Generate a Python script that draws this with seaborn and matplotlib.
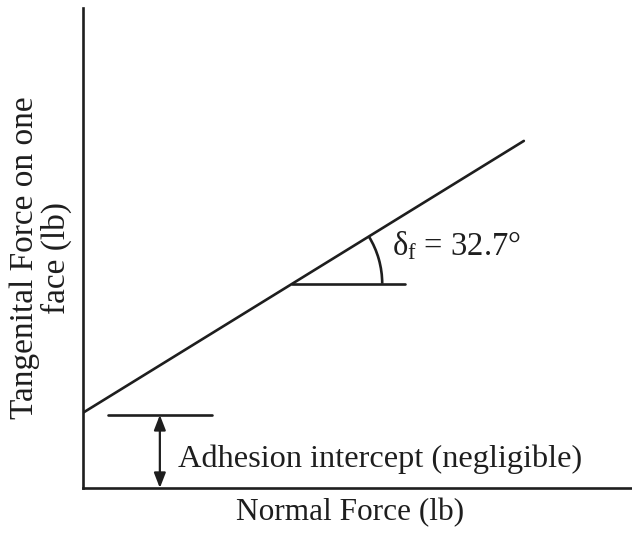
import matplotlib
matplotlib.use("Agg")
import matplotlib.pyplot as plt
from matplotlib.patches import Arc
import numpy as np
import pandas as pd
import seaborn as sns

# ---- data (arbitrary units) ----
normal_force = [0.0, 80.3]          # envelope x
tangential_force = [13.7, 63.2]     # envelope y
adhesion_level = 13.3               # adhesion intercept marker
adhesion_span = [4.6, 23.5]
arrow_x = 14.0
angle_vertex = [38.1, 37.2]
angle_ref_end = 58.7
arc_radius = 16.4
friction_angle_label = "32.7°"
x_limits = [0, 100]
y_limits = [0, 87.4]

sns.set_style("white")
plt.rcParams["font.family"] = ["Liberation Serif", "DejaVu Serif"]
plt.rcParams["mathtext.fontset"] = "custom"
plt.rcParams["mathtext.rm"] = "Liberation Serif"
plt.rcParams["mathtext.it"] = "Liberation Serif"

W, H = 632, 535
fig = plt.figure(figsize=(W / 100, H / 100), dpi=100)
ax = fig.add_axes([83 / W, (535 - 488) / H, (632 - 83) / W, (488 - 8) / H])

ink = "#1e1e1e"
lw = 1.9
df = pd.DataFrame({"Normal Force": normal_force, "Tangential Force": tangential_force})
sns.lineplot(data=df, x="Normal Force", y="Tangential Force", ax=ax, color=ink, lw=lw)

# angle reference line + arc
ax.plot([angle_vertex[0], angle_ref_end], [angle_vertex[1]] * 2, color=ink, lw=lw)
slope = (tangential_force[1] - tangential_force[0]) / (normal_force[1] - normal_force[0])
theta = np.degrees(np.arctan(slope))
ax.add_patch(Arc(angle_vertex, 2 * arc_radius, 2 * arc_radius, theta1=0, theta2=theta,
                 color=ink, lw=lw))
ax.text(56.3, 42.4, r"$\delta_\mathrm{f}$ = " + friction_angle_label, fontsize=23.5,
        ha="left", va="baseline", color=ink)

# adhesion intercept
ax.plot(adhesion_span, [adhesion_level] * 2, color=ink, lw=lw)
ax.annotate("", xy=(arrow_x, 0), xytext=(arrow_x, adhesion_level),
            arrowprops=dict(arrowstyle="<|-|>,head_length=0.9,head_width=0.35",
                            color=ink, lw=1.6, shrinkA=0, shrinkB=0))
ax.text(17.3, 3.8, "Adhesion intercept (negligible)", fontsize=23.3, ha="left",
        va="baseline", color=ink)

ax.set_xlim(x_limits)
ax.set_ylim(y_limits)
ax.set_xticks([])
ax.set_yticks([])
ax.set_xlabel("")
ax.set_ylabel("")
for s in ["top", "right"]:
    ax.spines[s].set_visible(False)
for s in ["left", "bottom"]:
    ax.spines[s].set_color(ink)
    ax.spines[s].set_linewidth(lw)

fig.text(350 / W, 1 - 513 / H, "Normal Force (lb)", fontsize=22.5, ha="center",
         va="center", color=ink)
fig.text(41 / W, 1 - 258 / H, "Tangenital Force on one\nface (lb)", fontsize=24,
         ha="center", va="center", rotation=90, multialignment="center",
         linespacing=1.05, color=ink)

fig.savefig("out.png", dpi=100, facecolor="white")
